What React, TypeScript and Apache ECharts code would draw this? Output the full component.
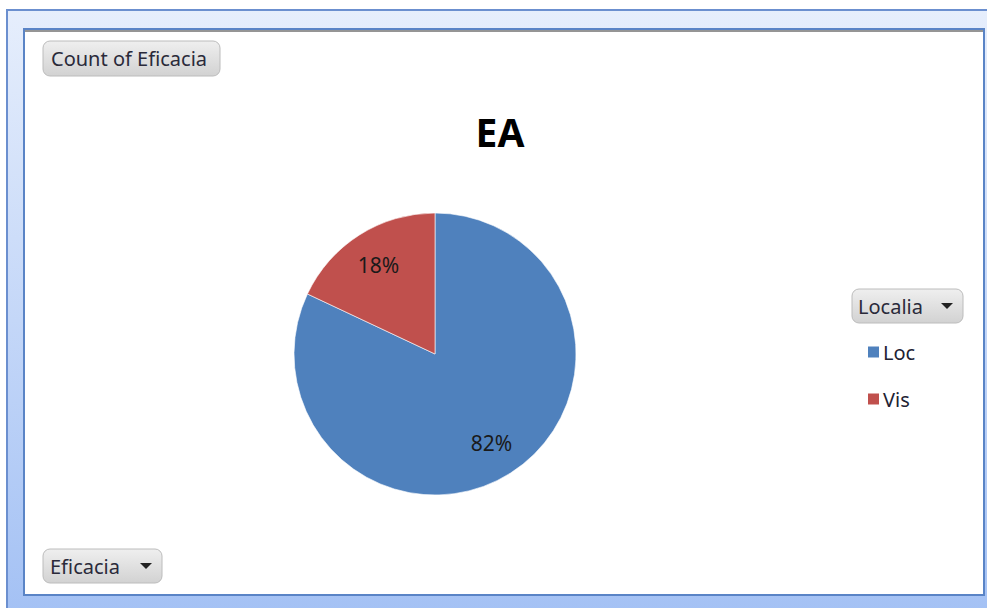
import React, { useEffect, useRef } from "react";
import * as echarts from "echarts";

const categories = ["Loc", "Vis"];
const counts = [82, 18];
const sliceColors = ["#4f81bd", "#c0504d"];
const chartTitle = "EA";
const valueFieldLabel = "Count of Eficacia";
const legendFieldLabel = "Localia";
const axisFieldLabel = "Eficacia";

const FONT = "'Noto Sans', 'DejaVu Sans', sans-serif";

function button(x: number, y: number, w: number, h: number, label: string, arrow: boolean, textX: number) {
  const children: any[] = [
    {
      type: "rect",
      shape: { x, y, width: w, height: h, r: 7 },
      style: {
        fill: new echarts.graphic.LinearGradient(0, 0, 0, 1, [
          { offset: 0, color: "#efefef" },
          { offset: 1, color: "#d2d2d2" },
        ]),
        stroke: "#bcbcbc",
        lineWidth: 1,
      },
    },
    {
      type: "text",
      x: textX,
      y: y + h / 2,
      style: {
        text: label,
        fontFamily: FONT,
        fontSize: 20,
        fill: "#2a2a3a",
        verticalAlign: "middle",
        align: "left",
      },
    },
  ];
  if (arrow) {
    const ax = x + w - 22;
    const ay = y + h / 2 - 3;
    children.push({
      type: "polygon",
      shape: { points: [[ax, ay], [ax + 12, ay], [ax + 6, ay + 6]] },
      style: { fill: "#222222" },
    });
  }
  return { type: "group", z: 5, children };
}

export default function App() {
  const ref = useRef<HTMLDivElement>(null);
  useEffect(() => {
    document.body.style.margin = "0";
    const chart = echarts.init(ref.current!, undefined, { renderer: "svg" });
    const data = categories.map((name, i) => ({ name, value: counts[i], itemStyle: { color: sliceColors[i] } }));
    chart.setOption({
      animation: false,
      backgroundColor: "#ffffff",
      graphic: [
        {
          type: "rect",
          z: -20,
          shape: { x: 7, y: 10, width: 995, height: 620 },
          style: {
            fill: new echarts.graphic.LinearGradient(0, 0, 0, 1, [
              { offset: 0, color: "#e6eefc" },
              { offset: 1, color: "#a2c0f4" },
            ]),
            stroke: "#6b8fcf",
            lineWidth: 2,
          },
        },
        {
          type: "rect",
          z: -15,
          shape: { x: 24, y: 29, width: 960, height: 566 },
          style: { fill: "#ffffff", stroke: "#5a84c6", lineWidth: 2 },
        },
        {
          type: "line",
          z: -14,
          shape: { x1: 25, y1: 31, x2: 983, y2: 31 },
          style: { stroke: "#959595", lineWidth: 2 },
        },
        {
          type: "text",
          z: 5,
          x: 500,
          y: 131,
          style: {
            text: chartTitle,
            fontFamily: FONT,
            fontSize: 39,
            fontWeight: "bold",
            fill: "#000000",
            align: "center",
            verticalAlign: "middle",
          },
        },
        button(43, 41, 177, 35, valueFieldLabel, false, 51),
        button(852, 289, 111, 34, legendFieldLabel, true, 858),
        button(43, 549, 119, 34, axisFieldLabel, true, 50),
      ],
      legend: {
        orient: "vertical",
        left: 861,
        top: 337,
        itemWidth: 13,
        itemHeight: 13,
        itemGap: 27,
        icon: "rect",
        selectedMode: false,
        data: categories.map((name, i) => ({ name, itemStyle: { color: sliceColors[i] } })),
        textStyle: { fontFamily: FONT, fontSize: 20, color: "#222233", padding: [0, 0, 0, -2] },
      },
      series: [
        {
          type: "pie",
          center: [435, 354],
          radius: 141,
          startAngle: 90,
          clockwise: true,
          label: { show: false },
          labelLine: { show: false },
          itemStyle: { borderColor: "#ffffff", borderWidth: 0.6 },
          emphasis: { disabled: true },
          data,
        },
        {
          type: "pie",
          center: [435, 354],
          radius: [64, 141],
          startAngle: 90,
          clockwise: true,
          silent: true,
          itemStyle: { color: "transparent" },
          label: {
            show: true,
            position: "inside",
            formatter: "{d}%",
            fontFamily: FONT,
            fontSize: 21,
            color: "#1a1a1a",
          },
          labelLine: { show: false },
          emphasis: { disabled: true },
          data: categories.map((name, i) => ({ name, value: counts[i], itemStyle: { color: "transparent" } })),
        },
      ],
    });
    return () => chart.dispose();
  }, []);
  return <div ref={ref} style={{ position: "fixed", left: 0, top: 0, width: 987, height: 608 }} />;
}
